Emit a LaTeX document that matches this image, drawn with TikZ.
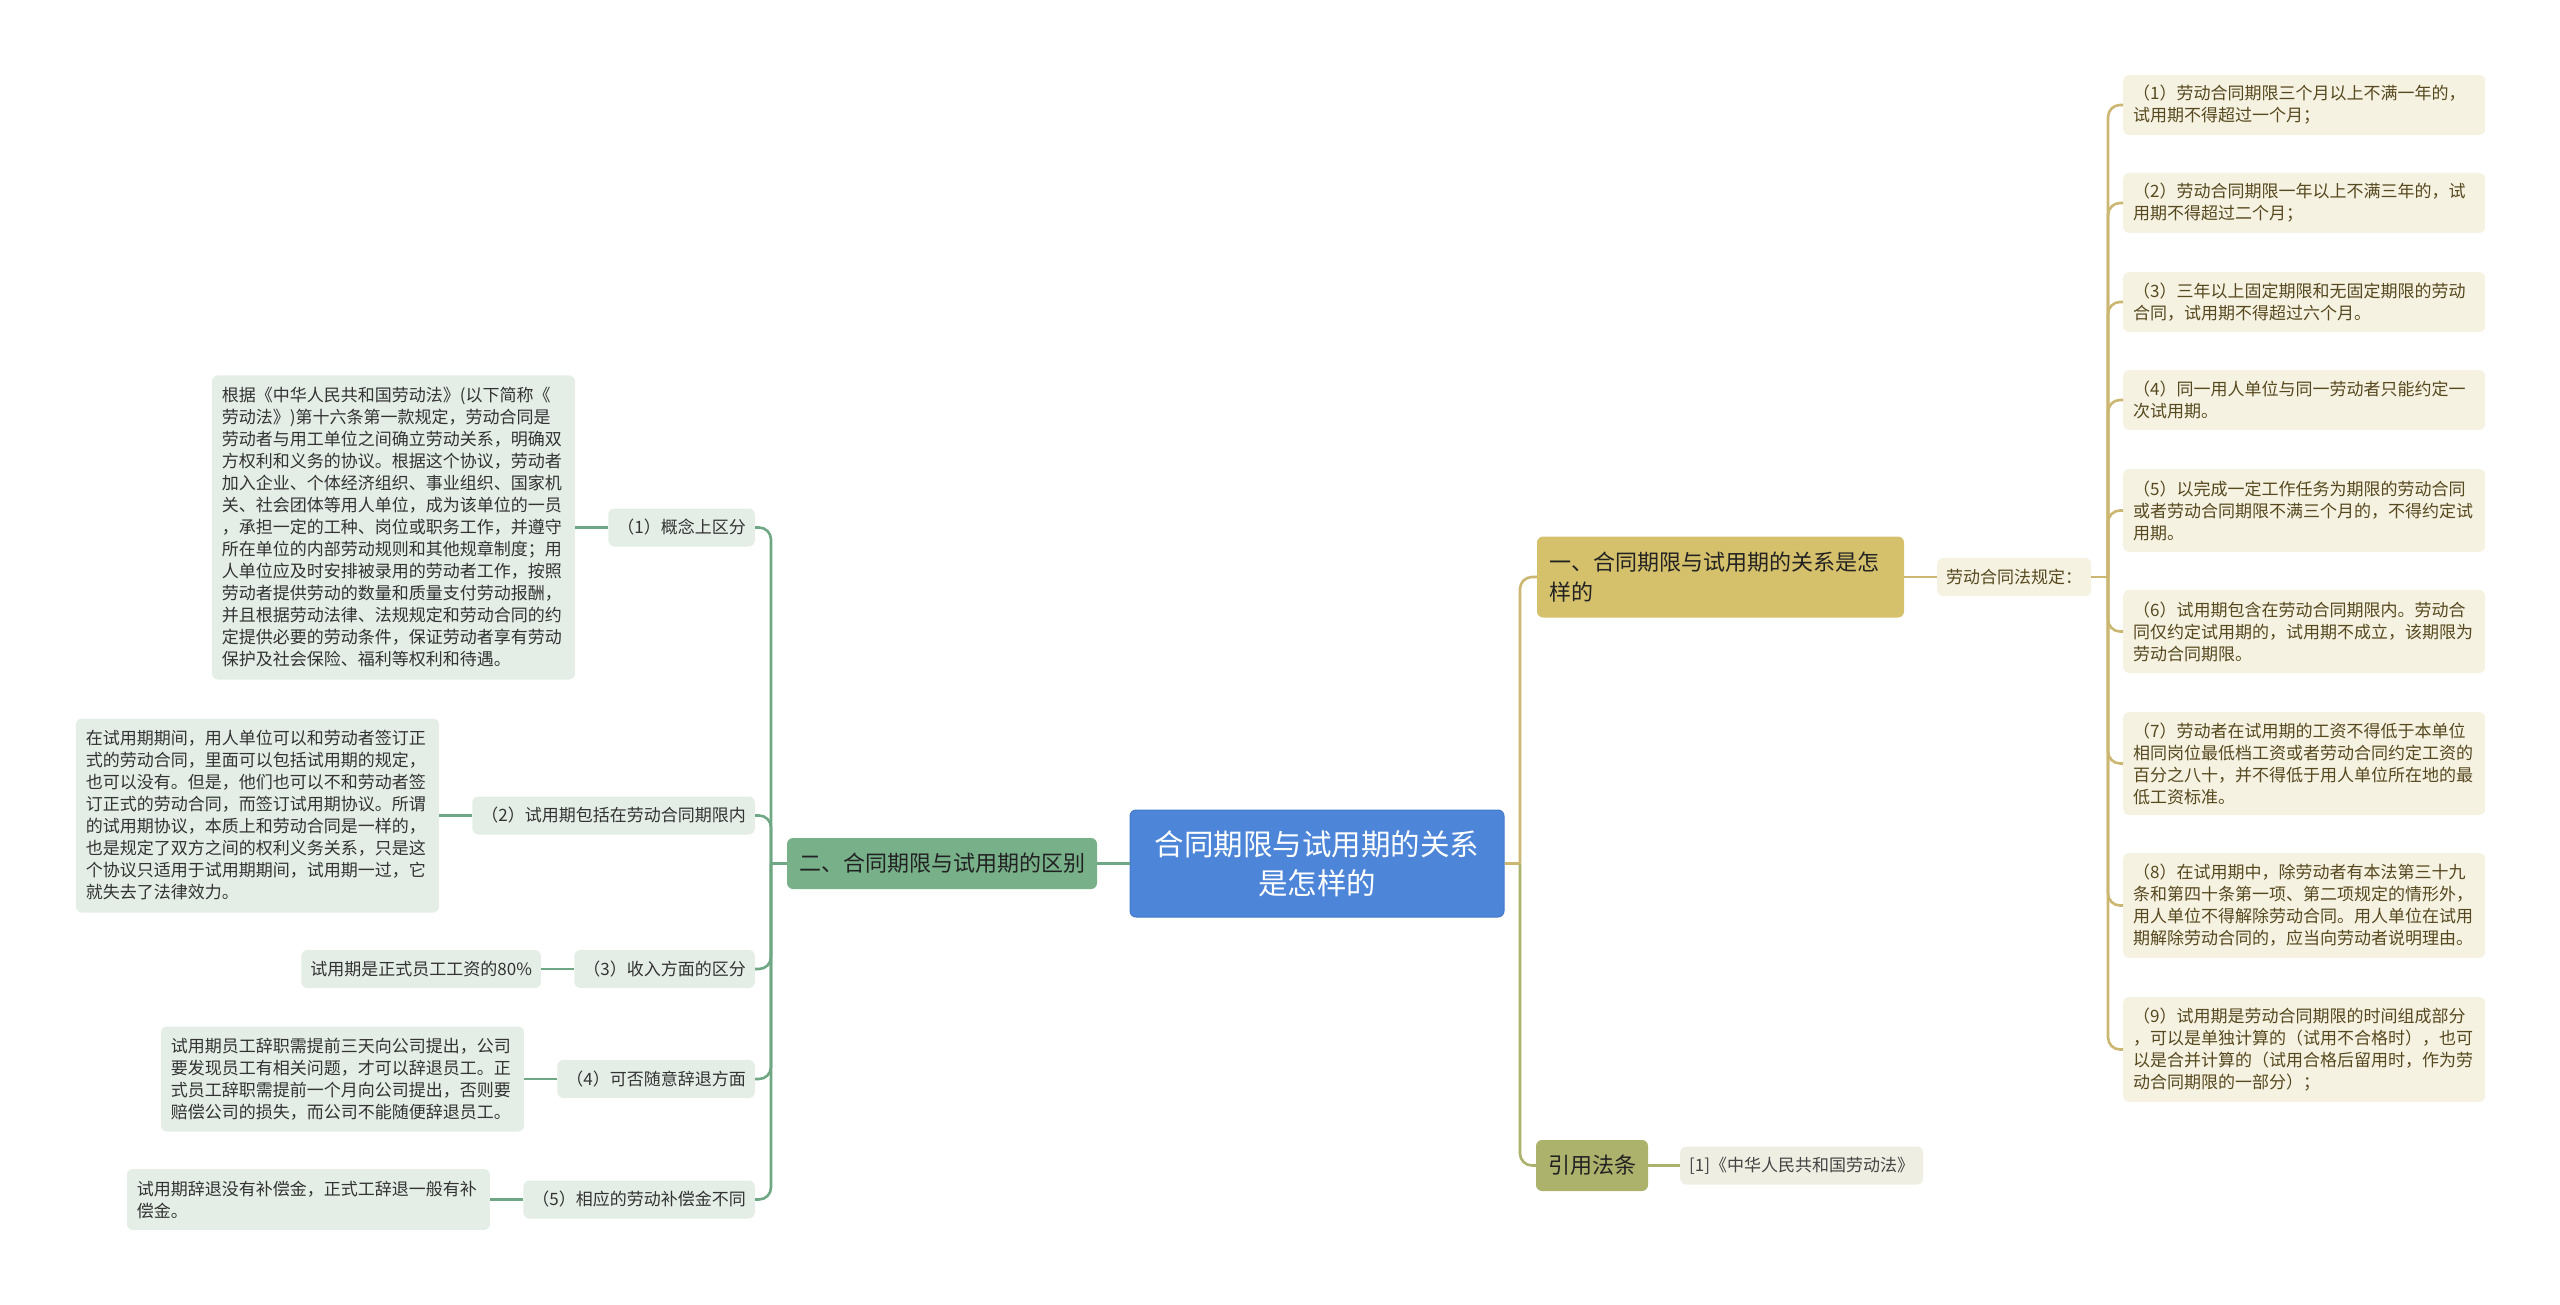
\documentclass[tikz,border=0pt]{standalone}
\usepackage{fontspec}
\setmainfont{Noto Sans CJK SC}
\usetikzlibrary{positioning}
\definecolor{cblue}{HTML}{4D86D8}
\definecolor{cblueb}{HTML}{4479C8}
\definecolor{gmain}{HTML}{78B08A}
\definecolor{gleaf}{HTML}{E4EEE7}
\definecolor{glinec}{HTML}{6FA784}
\definecolor{ymain}{HTML}{D5C06C}
\definecolor{yleaf}{HTML}{F6F2E2}
\definecolor{ylinec}{HTML}{CBB772}
\definecolor{omain}{HTML}{ACB16B}
\definecolor{oleaf}{HTML}{EEEEE3}
\definecolor{olinec}{HTML}{ACB16B}
\definecolor{tdark}{HTML}{222222}
\definecolor{tgreen}{HTML}{333333}
\definecolor{tbrown}{HTML}{56491F}
\definecolor{tgray}{HTML}{444444}
\begin{document}
\begin{tikzpicture}[x=1pt,y=-1pt,
  bx/.style={rounded corners=6pt, inner ysep=0pt, inner xsep=9pt, minimum height=38pt, font=\fontsize{17}{22}\selectfont},
  gsub/.style={bx, fill=gleaf, text=tgreen},
  gtxt/.style={gsub, text width=343pt, inner xsep=10pt, align=left},
  ytxt/.style={bx, fill=yleaf, text=tbrown, text width=342pt, inner xsep=10pt, align=left},
  cnode/.style={rounded corners=6pt, fill=cblue, draw=cblueb, line width=1pt, text=white, font=\fontsize{29.5}{39}\selectfont, align=center, text width=326pt, inner xsep=24pt, inner ysep=0pt, minimum height=107pt},
  mainst/.style={rounded corners=6pt, text=tdark, font=\fontsize{22}{30}\selectfont, inner xsep=12pt, inner ysep=0pt, minimum height=51pt},
  conn/.style={line width=2.6pt, rounded corners=12pt}
]
\useasboundingbox (0,0) rectangle (2560,1305);

% central
\node[cnode] (c) at (1317,863.5) {合同期限与试用期的关系\\是怎样的};

% left branch
\node[mainst, fill=gmain] (lm) at (942,863.5) {二、合同期限与试用期的区别};
\coordinate (tl) at (771,863.5);

\node[gsub, anchor=east] (s1) at (755,527.5) {（1）概念上区分};
\node[gsub, anchor=east] (s2) at (755,815.5) {（2）试用期包括在劳动合同期限内};
\node[gsub, anchor=east] (s3) at (755,969) {（3）收入方面的区分};
\node[gsub, anchor=east] (s4) at (755,1079) {（4）可否随意辞退方面};
\node[gsub, anchor=east] (s5) at (755,1199.5) {（5）相应的劳动补偿金不同};

\node[gtxt, anchor=east, minimum height=304pt] (l1) at ([xshift=-33pt]s1.west) {根据《中华人民共和国劳动法》(以下简称《\\劳动法》)第十六条第一款规定，劳动合同是\\劳动者与用工单位之间确立劳动关系，明确双\\方权利和义务的协议。根据这个协议，劳动者\\加入企业、个体经济组织、事业组织、国家机\\关、社会团体等用人单位，成为该单位的一员\\，承担一定的工种、岗位或职务工作，并遵守\\所在单位的内部劳动规则和其他规章制度；用\\人单位应及时安排被录用的劳动者工作，按照\\劳动者提供劳动的数量和质量支付劳动报酬，\\并且根据劳动法律、法规规定和劳动合同的约\\定提供必要的劳动条件，保证劳动者享有劳动\\保护及社会保险、福利等权利和待遇。};
\node[gtxt, anchor=east, minimum height=194pt] (l2) at ([xshift=-33pt]s2.west) {在试用期期间，用人单位可以和劳动者签订正\\式的劳动合同，里面可以包括试用期的规定，\\也可以没有。但是，他们也可以不和劳动者签\\订正式的劳动合同，而签订试用期协议。所谓\\的试用期协议，本质上和劳动合同是一样的，\\也是规定了双方之间的权利义务关系，只是这\\个协议只适用于试用期期间，试用期一过，它\\就失去了法律效力。};
\node[gsub, anchor=east] (l3) at ([xshift=-33pt]s3.west) {试用期是正式员工工资的80\%};
\node[gtxt, anchor=east, minimum height=105pt] (l4) at ([xshift=-33pt]s4.west) {试用期员工辞职需提前三天向公司提出，公司\\要发现员工有相关问题，才可以辞退员工。正\\式员工辞职需提前一个月向公司提出，否则要\\赔偿公司的损失，而公司不能随便辞退员工。};
\node[gtxt, anchor=east, minimum height=61pt] (l5) at ([xshift=-33pt]s5.west) {试用期辞退没有补偿金，正式工辞退一般有补\\偿金。};

% right branch
\node[mainst, fill=ymain, align=left, text width=343pt, minimum height=81pt] (r1) at (1720.5,577) {一、合同期限与试用期的关系是怎\\样的};
\node[mainst, fill=omain] (r2) at (1592,1165.5) {引用法条};
\coordinate (tr) at (1520,863.5);

\node[bx, fill=yleaf, text=tbrown, anchor=west] (rule) at (1937,577) {劳动合同法规定：};
\coordinate (tq) at (2108,577);

\node[ytxt, anchor=west, minimum height=60pt] (q1) at (2123,105) {（1）劳动合同期限三个月以上不满一年的，\\试用期不得超过一个月；};
\node[ytxt, anchor=west, minimum height=60pt] (q2) at (2123,203) {（2）劳动合同期限一年以上不满三年的，试\\用期不得超过二个月；};
\node[ytxt, anchor=west, minimum height=60pt] (q3) at (2123,302) {（3）三年以上固定期限和无固定期限的劳动\\合同，试用期不得超过六个月。};
\node[ytxt, anchor=west, minimum height=60pt] (q4) at (2123,400) {（4）同一用人单位与同一劳动者只能约定一\\次试用期。};
\node[ytxt, anchor=west, minimum height=83pt] (q5) at (2123,510.5) {（5）以完成一定工作任务为期限的劳动合同\\或者劳动合同期限不满三个月的，不得约定试\\用期。};
\node[ytxt, anchor=west, minimum height=83pt] (q6) at (2123,631.5) {（6）试用期包含在劳动合同期限内。劳动合\\同仅约定试用期的，试用期不成立，该期限为\\劳动合同期限。};
\node[ytxt, anchor=west, minimum height=103pt] (q7) at (2123,763.5) {（7）劳动者在试用期的工资不得低于本单位\\相同岗位最低档工资或者劳动合同约定工资的\\百分之八十，并不得低于用人单位所在地的最\\低工资标准。};
\node[ytxt, anchor=west, minimum height=105pt] (q8) at (2123,905.5) {（8）在试用期中，除劳动者有本法第三十九\\条和第四十条第一项、第二项规定的情形外，\\用人单位不得解除劳动合同。用人单位在试用\\期解除劳动合同的，应当向劳动者说明理由。};
\node[ytxt, anchor=west, minimum height=105pt] (q9) at (2123,1049.5) {（9）试用期是劳动合同期限的时间组成部分\\，可以是单独计算的（试用不合格时），也可\\以是合并计算的（试用合格后留用时，作为劳\\动合同期限的一部分）；};

\node[bx, fill=oleaf, text=tgray, anchor=west] (ref) at (1680,1165.5) {[1]《中华人民共和国劳动法》};

% connectors left
\draw[conn, glinec] (c.west) -- (lm.east);
\draw[conn, glinec] (lm.west) -- (tl);
\foreach \s in {s1,s2,s3,s4,s5} \draw[conn, glinec] (tl) |- (\s.east);
\draw[conn, glinec] (s1.west) -- (l1.east);
\draw[conn, glinec] (s2.west) -- (l2.east);
\draw[conn, glinec] (s3.west) -- (l3.east);
\draw[conn, glinec] (s4.west) -- (l4.east);
\draw[conn, glinec] (s5.west) -- (l5.east);

% connectors right
\draw[conn, ylinec] (c.east) -- (tr);
\draw[conn, ylinec] (tr) |- (r1.west);
\draw[conn, olinec] (tr) |- (r2.west);
\draw[conn, ylinec] (r1.east) -- (rule.west);
\draw[conn, ylinec] (rule.east) -- (tq);
\foreach \q in {q1,q2,q3,q4,q5,q6,q7,q8,q9} \draw[conn, ylinec] (tq) |- (\q.west);
\draw[conn, olinec] (r2.east) -- (ref.west);
\end{tikzpicture}
\end{document}
